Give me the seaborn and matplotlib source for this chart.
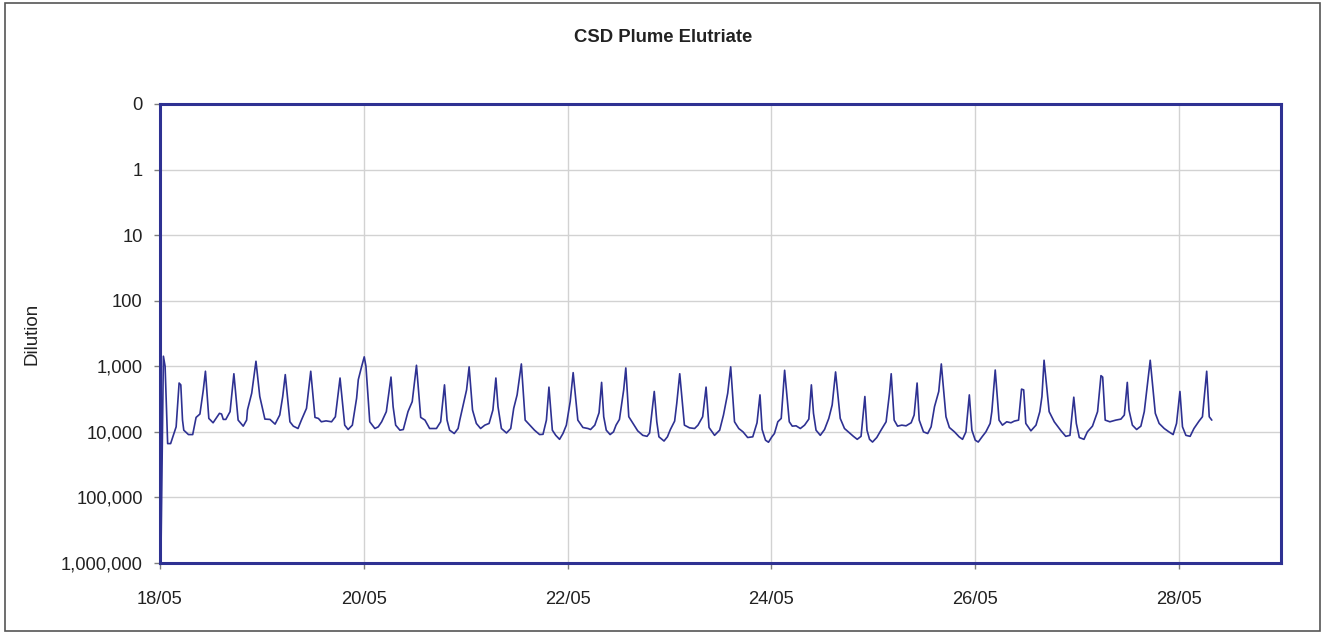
import matplotlib
matplotlib.use("Agg")
import matplotlib.pyplot as plt
import matplotlib.ticker as mticker
from matplotlib.patches import Rectangle
import seaborn as sns
import pandas as pd

# ---------------- data ----------------
title = "CSD Plume Elutriate"
y_label = "Dilution"
start_date = "2008-05-18"

# hours since 18/05 00:00
hours = [
    0.2, 0.8, 1.2, 1.8, 2.5, 3.8, 4.5, 4.9, 5.3, 5.6,
    6.7, 7.7, 8.5, 9.4, 10.2, 10.7, 11.5, 12.5, 14.0, 14.5,
    14.9, 15.5, 16.5, 17.4, 18.4, 19.6, 20.4, 20.6, 21.6, 22.6,
    23.5, 24.7, 25.9, 27.1, 28.2, 28.9, 29.5, 30.6, 31.4, 32.5,
    33.3, 34.5, 35.5, 36.5, 37.3, 38.0, 39.1, 40.4, 41.3, 42.4,
    43.5, 44.3, 45.3, 46.3, 46.7, 47.5, 48.1, 48.5, 49.4, 50.6,
    51.4, 52.2, 53.3, 54.4, 54.9, 55.5, 56.5, 57.3, 58.4, 59.4,
    60.4, 61.4, 62.4, 63.5, 65.1, 66.1, 67.0, 67.6, 68.2, 69.3,
    70.2, 70.6, 71.5, 72.2, 72.8, 73.6, 74.5, 75.5, 76.5, 77.5,
    78.4, 79.1, 79.6, 80.4, 81.6, 82.6, 83.3, 84.1, 85.1, 86.0,
    87.1, 88.2, 89.4, 90.2, 91.0, 91.6, 92.4, 93.2, 94.1, 94.9,
    95.7, 96.6, 97.3, 98.4, 99.6, 100.8, 101.4, 102.4, 103.4, 104.0,
    104.5, 105.1, 106.0, 106.8, 107.4, 108.2, 109.2, 109.7, 110.4, 111.4,
    112.5, 113.7, 114.7, 115.3, 116.4, 117.0, 117.5, 118.7, 119.5, 120.2,
    121.2, 121.7, 122.4, 123.5, 124.7, 125.9, 126.7, 127.8, 128.6, 129.3,
    130.6, 131.8, 132.7, 133.7, 134.4, 135.3, 136.3, 137.3, 138.4, 139.6,
    140.6, 141.3, 141.8, 142.6, 143.3, 144.1, 144.7, 145.5, 146.3, 147.1,
    148.2, 148.9, 149.8, 150.8, 151.8, 152.8, 153.4, 153.9, 154.5, 155.5,
    156.5, 157.5, 158.3, 159.1, 160.2, 161.2, 162.4, 163.3, 164.2, 165.1,
    166.0, 166.5, 167.1, 167.8, 168.8, 169.8, 171.0, 171.8, 172.2, 172.9,
    173.7, 174.7, 175.7, 176.9, 177.6, 178.3, 178.8, 179.8, 180.8, 181.6,
    182.4, 183.4, 184.0, 185.1, 185.9, 187.1, 188.2, 189.0, 189.8, 190.6,
    191.2, 192.0, 192.7, 193.6, 194.5, 195.5, 195.9, 196.7, 197.6, 198.4,
    199.4, 200.4, 201.2, 202.2, 202.9, 203.4, 203.9, 205.1, 206.3, 207.2,
    207.7, 208.2, 209.4, 210.6, 212.2, 213.3, 214.3, 215.2, 215.8, 216.5,
    217.6, 218.4, 219.6, 220.8, 221.6, 222.0, 222.6, 223.7, 225.1, 226.3,
    227.1, 227.8, 228.2, 229.0, 230.0, 231.0, 231.8, 232.3, 233.2, 234.4,
    235.3, 236.5, 237.6, 238.6, 239.4, 240.2, 240.8, 241.6, 242.6, 243.5,
    244.7, 245.5, 246.5, 247.1, 247.7,
]

dilution = [
    1000000, 702, 1000, 15100, 15100, 8380, 1800, 1920, 6600, 9430,
    11000, 11000, 6020, 5350, 2290, 1190, 6240, 7270, 5220, 5350,
    6460, 6460, 4920, 1300, 6620, 8180, 6620, 4640, 2570, 838,
    2890, 6390, 6460, 7620, 5540, 2890, 1340, 7020, 8180, 8890,
    6620, 4380, 1190, 6020, 6240, 7020, 6800, 7020, 5880, 1510,
    7900, 9210, 7900, 3070, 1600, 1000, 718, 1000, 7020, 8890,
    8380, 7020, 4920, 1460, 4130, 7900, 9430, 9210, 4920, 3460,
    965, 6020, 6620, 8890, 8890, 7020, 1920, 6620, 9430, 10600,
    8890, 6620, 3670, 2290, 1020, 4640, 7440, 8890, 7900, 7440,
    4640, 1510, 4130, 8890, 10400, 8890, 4380, 2730, 921, 6620,
    7900, 9430, 11000, 10900, 6620, 2080, 9430, 11300, 13000, 10600,
    7900, 3460, 1250, 6620, 8580, 8890, 9210, 7900, 5100, 1760,
    5880, 9430, 11000, 10000, 7900, 6460, 2290, 1060, 5880, 7440,
    9650, 11300, 11700, 10400, 2420, 7020, 11900, 13800, 11900, 9210,
    6850, 3670, 1300, 7900, 8680, 8890, 7900, 5880, 2080, 8580,
    11300, 9430, 5540, 2570, 1020, 7020, 8890, 10000, 12200, 11900,
    7270, 2730, 9210, 13400, 14400, 11900, 10600, 7020, 6240, 1150,
    7020, 8180, 8090, 8890, 7900, 6390, 1920, 5220, 9430, 11300,
    9210, 6240, 3890, 1220, 6240, 8890, 10400, 11700, 13000, 11700,
    2890, 9430, 13000, 14300, 12200, 9430, 7020, 2570, 1300, 6620,
    8180, 7900, 8090, 7270, 5540, 1800, 6620, 10000, 10600, 8380,
    4130, 2420, 921, 5880, 8580, 10000, 11900, 13000, 10000, 2730,
    9430, 13400, 14300, 11900, 10000, 7440, 4920, 1140, 6620, 7900,
    7020, 7270, 6850, 6620, 2230, 2290, 7440, 9650, 7900, 4920,
    2890, 809, 4920, 7020, 9650, 11700, 11300, 2960, 7440, 12200,
    13000, 10000, 8180, 4920, 1390, 1460, 6620, 7020, 6620, 6390,
    5540, 1760, 4640, 7900, 9210, 8180, 4920, 2570, 809, 5220,
    7440, 8890, 10000, 11000, 7440, 2420, 8380, 11300, 11700, 8890,
    6850, 5880, 1190, 5880, 6620,
]

y_tick_values = [0.1, 1, 10, 100, 1000, 10000, 100000, 1000000]
y_tick_labels = ["0", "1", "10", "100", "1,000", "10,000", "100,000", "1,000,000"]
x_tick_days = [0, 2, 4, 6, 8, 10]
x_tick_labels = ["18/05", "20/05", "22/05", "24/05", "26/05", "28/05"]
x_span_days = 11

# ---------------- styling ----------------
sns.set_style("white")
plt.rcParams["font.family"] = ["Liberation Sans", "DejaVu Sans"]

NAVY = "#2E3192"
GRID = "#d2d2d2"
TICK = "#7f7f7f"
TEXT = "#222222"

W, H = 1322, 634
fig = plt.figure(figsize=(W / 100, H / 100), dpi=100)
fig.patch.set_facecolor("white")
ax = fig.add_axes([160 / W, (H - 563) / H, (1281 - 160) / W, (563 - 104) / H])

base = pd.Timestamp(start_date)
df = pd.DataFrame({
    "time": base + pd.to_timedelta(hours, unit="h"),
    "dilution": dilution,
})

sns.lineplot(data=df, x="time", y="dilution", ax=ax, color=NAVY,
             linewidth=1.2, estimator=None, sort=False)

ax.set_yscale("log")
ax.set_ylim(1e6, 0.1)
ax.yaxis.set_major_locator(mticker.FixedLocator(y_tick_values))
ax.yaxis.set_minor_locator(mticker.NullLocator())
ax.set_yticklabels(y_tick_labels)

ax.set_xlim(base, base + pd.Timedelta(days=x_span_days))
ax.set_xticks([base + pd.Timedelta(days=d) for d in x_tick_days])
ax.set_xticklabels(x_tick_labels)
ax.xaxis.set_minor_locator(mticker.NullLocator())

ax.grid(True, color=GRID, linewidth=1.0)
ax.set_axisbelow(True)

for sp in ax.spines.values():
    sp.set_color(NAVY)
    sp.set_linewidth(2.2)
    sp.set_visible(True)

ax.tick_params(axis="y", direction="out", length=4.5, width=1, color=TICK,
               pad=8, labelsize=13.2, labelcolor=TEXT, left=True)
ax.tick_params(axis="x", direction="out", length=4.5, width=1, color=TICK,
               pad=16, labelsize=13.2, labelcolor=TEXT, bottom=True)

ax.set_xlabel("")
ax.set_ylabel(y_label, fontsize=13.5, color=TEXT)
ax.yaxis.set_label_coords((40 - 160) / (1281 - 160), 0.5)

fig.text(663 / W, 1 - 37 / H, title, ha="center", va="center",
         fontsize=13.3, fontweight="bold", color=TEXT)

fig.patches.append(Rectangle((5 / W, 3 / H), (1320 - 5) / W, (631 - 3) / H,
                             transform=fig.transFigure, fill=False,
                             edgecolor="#555555", linewidth=1.2))

fig.savefig("out.png", dpi=100)
